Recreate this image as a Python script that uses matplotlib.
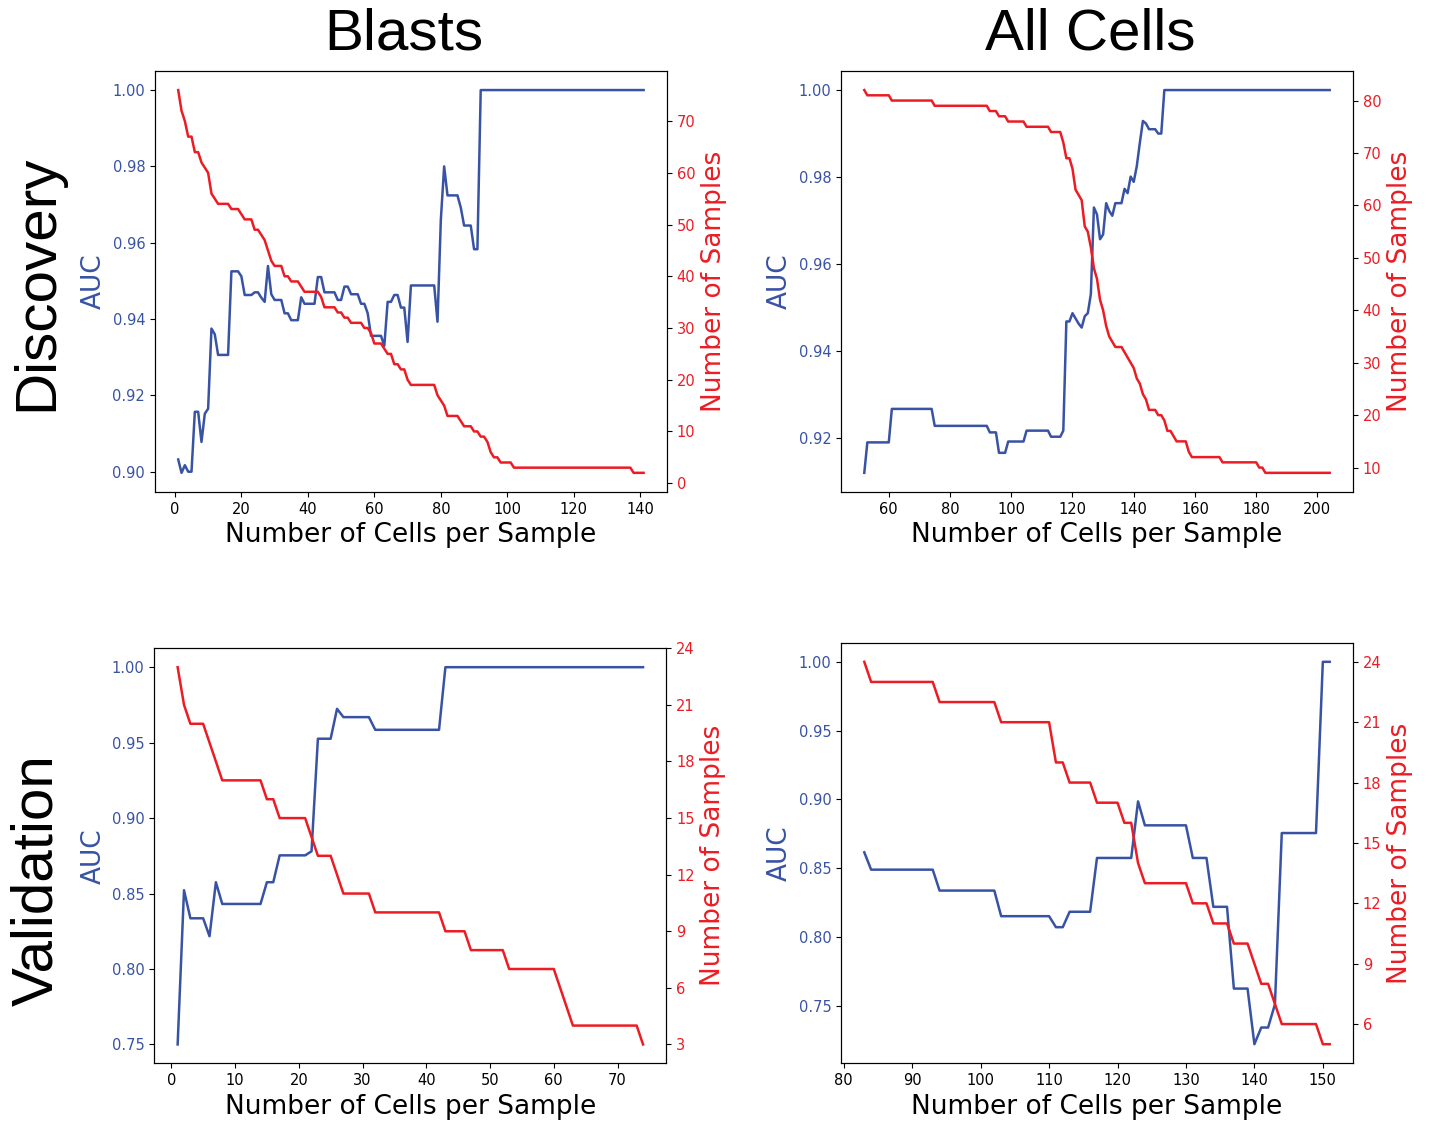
from matplotlib import pyplot as plt
from matplotlib.ticker import MultipleLocator

## Data (vertices of each curve: x = number of cells per sample)
# Discovery - Blasts
disc_blasts_auc_x = [1, 2, 3, 4, 5, 6, 7, 8, 9, 10, 11, 12, 13, 16, 17, 19, 20, 21, 23, 24, 25, 26, 27, 28, 29, 30,
                     32, 33, 34, 35, 37, 38, 39, 42, 43, 44, 45, 48, 49, 50, 51, 52, 53, 55, 56, 57, 58, 59, 62, 63,
                     64, 65, 66, 67, 68, 69, 70, 71, 78, 79, 80, 81, 82, 85, 86, 87, 89, 90, 91, 92, 141]
disc_blasts_auc = [.9032, .8997, .9017, .9000, .9000, .9157, .9157, .9078, .9152, .9165, .9375, .9360, .9306,
                   .9306, .9525, .9525, .9512, .9463, .9463, .9470, .9470, .9456, .9445, .9539, .9465, .9450,
                   .9450, .9415, .9415, .9397, .9397, .9457, .9440, .9440, .9510, .9510, .9470, .9470, .9450, .9450,
                   .9485, .9485, .9465, .9465, .9440, .9440, .9415, .9356, .9356, .9330, .9445, .9445, .9463, .9463,
                   .9430, .9430, .9340, .9488, .9488, .9393, .9660, .9800, .9724, .9724, .9692, .9645, .9645,
                   .9583, .9583, 1.0, 1.0]
disc_blasts_n_x = [1, 2, 3, 4, 5, 6, 7, 8, 9, 10, 11, 12, 13, 16, 17, 19, 20, 21, 23, 24, 25, 26, 27, 28, 29, 30,
                   32, 33, 34, 35, 37, 38, 39, 43, 44, 45, 48, 49, 50, 51, 52, 53, 56, 57, 58, 59, 60, 62, 63, 64,
                   65, 66, 67, 68, 69, 70, 71, 78, 79, 80, 81, 82, 85, 86, 87, 89, 90, 91, 92, 93, 94, 95, 96, 97,
                   98, 101, 102, 137, 138, 141]
disc_blasts_n = [76, 72, 70, 67, 67, 64, 64, 62, 61, 60, 56, 55, 54, 54, 53, 53, 52, 51, 51, 49, 49, 48, 47, 45,
                 43, 42, 42, 40, 40, 39, 39, 38, 37, 37, 36, 34, 34, 33, 33, 32, 32, 31, 31, 30, 30, 29, 27, 27,
                 26, 25, 25, 23, 23, 22, 22, 20, 19, 19, 17, 16, 15, 13, 13, 12, 11, 11, 10, 10, 9, 9, 8, 6, 5, 5,
                 4, 4, 3, 3, 2, 2]

# Discovery - All Cells
disc_all_auc_x = [52, 53, 60, 61, 74, 75, 92, 93, 95, 96, 98, 99, 104, 105, 112, 113, 116, 117, 118, 119, 120, 121,
                  122, 123, 124, 125, 126, 127, 128, 129, 130, 131, 132, 133, 134, 136, 137, 138, 139, 140, 141,
                  142, 143, 144, 145, 147, 148, 149, 150, 204]
disc_all_auc = [.912, .919, .919, .9267, .9267, .9228, .9228, .9213, .9213, .9166, .9166, .9192, .9192, .9217,
                .9217, .9203, .9203, .9217, .9468, .9468, .9487, .9475, .9463, .9454, .948, .9487, .9531, .973,
                .9714, .9657, .9668, .974, .9722, .9711, .974, .974, .9773, .9763, .9801, .9789, .9825, .9879,
                .9929, .9923, .991, .991, .990, .990, 1.0, 1.0]
disc_all_n_x = [52, 53, 60, 61, 74, 75, 92, 93, 95, 96, 98, 99, 104, 105, 112, 113, 116, 117, 118, 119, 120, 121,
                122, 123, 124, 125, 126, 127, 128, 129, 130, 131, 132, 133, 134, 136, 137, 138, 139, 140, 141, 142,
                143, 144, 145, 147, 148, 149, 150, 151, 152, 153, 154, 157, 158, 159, 168, 169, 180, 181, 182, 183,
                204]
disc_all_n = [82, 81, 81, 80, 80, 79, 79, 78, 78, 77, 77, 76, 76, 75, 75, 74, 74, 72, 69, 69, 67, 63, 62, 61, 56,
              55, 52, 48, 46, 42, 40, 37, 35, 34, 33, 33, 32, 31, 30, 29, 27, 26, 24, 23, 21, 21, 20, 20, 19, 17,
              17, 16, 15, 15, 13, 12, 12, 11, 11, 10, 10, 9, 9]

# Validation - Blasts
val_blasts_auc_x = [1, 2, 3, 5, 6, 7, 8, 14, 15, 16, 17, 21, 22, 23, 25, 26, 27, 31, 32, 42, 43, 74]
val_blasts_auc = [.75, .8522, .8336, .8336, .8217, .8575, .8431, .8431, .8575, .8575, .8753, .8753, .878, .9526,
                  .9526, .9724, .9669, .9669, .9585, .9585, 1.0, 1.0]
val_blasts_n_x = [1, 2, 3, 5, 8, 14, 15, 16, 17, 21, 23, 25, 26, 27, 31, 32, 42, 43, 46, 47, 52, 53, 60, 63, 73, 74]
val_blasts_n = [23, 21, 20, 20, 17, 17, 16, 16, 15, 15, 13, 13, 12, 11, 11, 10, 10, 9, 9, 8, 8, 7, 7, 4, 4, 3]

# Validation - All Cells
val_all_auc_x = [83, 84, 93, 94, 102, 103, 110, 111, 112, 113, 116, 117, 122, 123, 124, 130, 131, 133, 134, 136,
                 137, 139, 140, 141, 142, 143, 144, 149, 150, 151]
val_all_auc = [.8616, .849, .849, .8338, .8338, .8152, .8152, .8072, .8072, .8184, .8184, .8575, .8575, .8986,
               .8812, .8812, .8575, .8575, .822, .822, .7626, .7626, .7222, .7343, .7343, .7512, .8756, .8756,
               1.0, 1.0]
val_all_n_x = [83, 84, 93, 94, 102, 103, 110, 111, 112, 113, 116, 117, 120, 121, 122, 123, 124, 130, 131, 133, 134,
               136, 137, 139, 140, 141, 142, 143, 144, 149, 150, 151]
val_all_n = [24, 23, 23, 22, 22, 21, 21, 19, 19, 18, 18, 17, 17, 16, 16, 14, 13, 13, 12, 12, 11, 11, 10, 10, 9, 8,
             8, 7, 6, 6, 5, 5]

col_titles = ['Blasts', 'All Cells']
row_titles = ['Discovery', 'Validation']

# Colors
BLUE = '#3953A4'
RED = '#ED1C24'


def panel(fig, rect, auc_x, auc, n_x, n, n_step=None):
    """draws one AUC / number-of-samples panel with twin y axes"""
    ax = fig.add_axes(rect)
    ax.plot(auc_x, auc, color=BLUE, linewidth=1.8)
    ax.set_ylabel('AUC', color=BLUE, fontsize=19)
    ax.set_xlabel('Number of Cells per Sample', fontsize=19)
    ax.tick_params(axis='y', labelcolor=BLUE, labelsize=10.5)
    ax.tick_params(axis='x', labelsize=10.5)

    # second axis: number of samples
    ax2 = ax.twinx()
    ax2.plot(n_x, n, color=RED, linewidth=1.8)
    ax2.set_ylabel('Number of Samples', color=RED, fontsize=19)
    ax2.tick_params(axis='y', labelcolor=RED, labelsize=10.5)
    if n_step is not None:
        ax2.yaxis.set_major_locator(MultipleLocator(n_step))
    return ax, ax2


fig = plt.figure(figsize=(14.32, 11.24), dpi=100)

panel(fig, [0.1082, 0.5623, 0.3575, 0.3746], disc_blasts_auc_x, disc_blasts_auc, disc_blasts_n_x, disc_blasts_n)
panel(fig, [0.5873, 0.5623, 0.3575, 0.3746], disc_all_auc_x, disc_all_auc, disc_all_n_x, disc_all_n)
panel(fig, [0.1078, 0.0540, 0.3575, 0.3692], val_blasts_auc_x, val_blasts_auc, val_blasts_n_x, val_blasts_n, 3)
panel(fig, [0.5873, 0.0540, 0.3575, 0.3742], val_all_auc_x, val_all_auc, val_all_n_x, val_all_n, 3)

# Column and row titles
title_font = dict(family='Liberation Sans', fontsize=42)
fig.text(404 / 1432, 1 - 35 / 1124, col_titles[0], ha='center', va='center', **title_font)
fig.text(1090 / 1432, 1 - 35 / 1124, col_titles[1], ha='center', va='center', **title_font)
fig.text(37 / 1432, 1 - 283 / 1124, row_titles[0], ha='center', va='center', rotation=90, **title_font)
fig.text(37 / 1432, 1 - 880 / 1124, row_titles[1], ha='center', va='center', rotation=90, **title_font)

fig.savefig('out.png', dpi=100)
plt.close(fig)
